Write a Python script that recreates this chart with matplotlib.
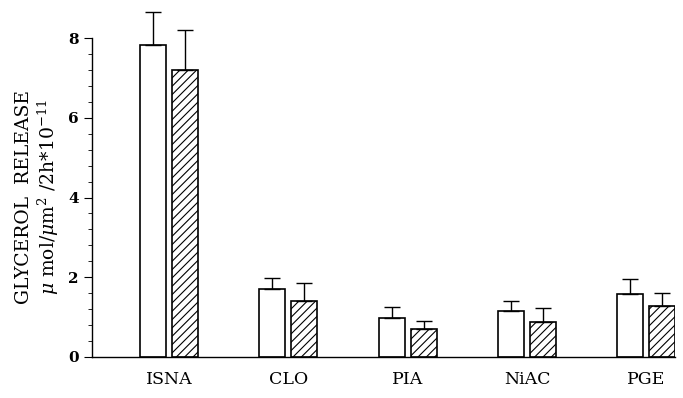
import numpy as np
import matplotlib
matplotlib.use('Agg')
import matplotlib.pyplot as plt

categories = ['ISNA', 'CLO', 'PIA', 'NiAC', 'PGE']
open_vals = [7.82, 1.70, 0.99, 1.15, 1.58]
open_err = [0.82, 0.28, 0.26, 0.25, 0.38]
hatch_vals = [7.21, 1.40, 0.69, 0.88, 1.27]
hatch_err = [0.98, 0.46, 0.22, 0.34, 0.34]

plt.rcParams['font.family'] = 'DejaVu Serif'
plt.rcParams['mathtext.fontset'] = 'dejavuserif'
plt.rcParams['hatch.linewidth'] = 0.8

fig = plt.figure(figsize=(6.83, 3.98), dpi=100)
ax = fig.add_axes([92/683, 41/398, 583/683, 319/398])

x = np.arange(len(categories))
w = 0.218
off = 0.134

ax.bar(x - off, open_vals, w, color='white', edgecolor='black', linewidth=1.2)
ax.bar(x + off, hatch_vals, w, color='white', edgecolor='black', linewidth=1.2, hatch='////')
ax.errorbar(x - off, open_vals, yerr=[np.zeros(5), open_err], fmt='none',
            ecolor='black', elinewidth=1, capsize=5.8, capthick=1, clip_on=False)
ax.errorbar(x + off, hatch_vals, yerr=[np.zeros(5), hatch_err], fmt='none',
            ecolor='black', elinewidth=1, capsize=5.8, capthick=1, clip_on=False)

ax.set_xlim(-0.645, 4.24)
ax.set_ylim(0, 8)
ax.spines['top'].set_visible(False)
ax.spines['right'].set_visible(False)
ax.spines['left'].set_linewidth(1.0)
ax.spines['bottom'].set_linewidth(1.0)

ax.set_yticks([0, 2, 4, 6, 8])
ax.set_yticks(np.arange(0, 8.01, 0.4), minor=True)
ax.tick_params(axis='y', which='major', length=6, labelsize=11)
ax.tick_params(axis='y', which='minor', length=3)
for lab in ax.get_yticklabels():
    lab.set_fontweight('bold')

ax.set_xticks(x)
ax.set_xticklabels(categories, fontsize=12.5)
ax.tick_params(axis='x', length=0, pad=10)

ax.set_ylabel('GLYCEROL  RELEASE\n' + r'$\mu$ mol/$\mu$m$^2$ /2h*10$^{-11}$',
              fontsize=13.5, labelpad=5, linespacing=1.15)

fig.savefig('out.png', dpi=100)
